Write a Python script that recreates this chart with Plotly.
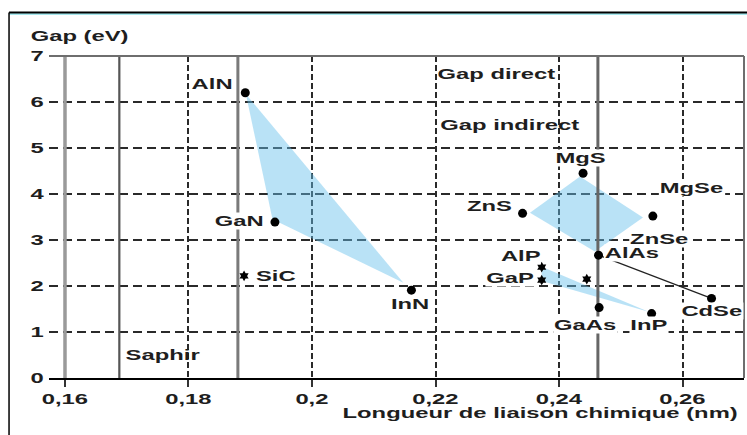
import plotly.graph_objects as go

# ---- data -------------------------------------------------------------
# direct-gap binaries (filled dots): bond length (nm), gap (eV)
direct_names = ["AlN", "GaN", "InN", "ZnS", "MgS", "MgSe", "AlAs", "CdSe", "GaAs", "InP"]
direct_bond = [0.1892, 0.1940, 0.2161, 0.2341, 0.2439, 0.2552, 0.2464, 0.2647, 0.2465, 0.2550]
direct_gap = [6.20, 3.39, 1.91, 3.58, 4.45, 3.52, 2.67, 1.73, 1.53, 1.40]

# indirect-gap binaries (stars)
indirect_names = ["SiC", "AlP", "GaP", ""]
indirect_bond = [0.1890, 0.2372, 0.2372, 0.2445]
indirect_gap = [2.22, 2.41, 2.13, 2.15]

# substrate reference lines (bond length, nm)
substrate_bond = [0.1600, 0.1688, 0.1880, 0.2463]

# alloy regions
nitride_bond = [0.1893, 0.1936, 0.2148]
nitride_gap = [6.17, 3.45, 2.07]
ii_vi_corners = ["ZnS", "MgS", "MgSe", "ZnSe"]
ii_vi_bond = [0.2353, 0.2434, 0.2536, 0.2458]
ii_vi_gap = [3.59, 4.38, 3.49, 2.75]
phosphide_bond = [0.2372, 0.2372, 0.2545]
phosphide_gap = [2.42, 2.11, 1.44]

# tie line between two binaries
tie_names = ["AlAs", "CdSe"]

x_ticks = [0.16, 0.18, 0.20, 0.22, 0.24, 0.26]
x_labels = ["0,16", "0,18", "0,2", "0,22", "0,24", "0,26"]
y_ticks = [0, 1, 2, 3, 4, 5, 6, 7]

# ---- styling ----------------------------------------------------------
INK = "#1e1e1e"
FILL = "rgba(100,190,235,0.45)"
FONT = dict(family="Liberation Sans", size=14, color=INK, weight="bold")
substrate_style = [("#9a9a9a", 3.5), ("#555555", 2.2), ("#7a7a7a", 3), ("#666666", 3)]

# label offsets in pixels (dx right, dy up) from each point
label_shift = {
    "AlN": (-33, 9), "GaN": (-35, 1), "InN": (-1, -14), "ZnS": (-34, 7),
    "MgS": (-2, 15), "MgSe": (39, 28), "AlAs": (33, 2), "CdSe": (0, -13),
    "GaAs": (-14, -17), "InP": (-3, -11), "SiC": (31, 0), "AlP": (-21, 11),
    "GaP": (-32, 2), "ZnSe": (64, 13),
}

fig = go.Figure()

for bx, gy in [(nitride_bond, nitride_gap), (ii_vi_bond, ii_vi_gap),
               (phosphide_bond, phosphide_gap)]:
    fig.add_trace(go.Scatter(x=bx, y=gy, fill="toself", fillcolor=FILL,
                             mode="lines", line=dict(width=0),
                             hoverinfo="skip", showlegend=False))

for b, (col, w) in zip(substrate_bond, substrate_style):
    fig.add_trace(go.Scatter(x=[b, b], y=[y_ticks[0], y_ticks[-1]], mode="lines",
                             line=dict(color=col, width=w),
                             hoverinfo="skip", showlegend=False))

tie_idx = [direct_names.index(n) for n in tie_names]
fig.add_trace(go.Scatter(x=[direct_bond[i] for i in tie_idx],
                         y=[direct_gap[i] for i in tie_idx], mode="lines",
                         line=dict(color="#222222", width=1.2),
                         hoverinfo="skip", showlegend=False))

fig.add_trace(go.Scatter(x=indirect_bond, y=indirect_gap, mode="markers",
                         marker=dict(symbol="hexagram", size=8, color="black"),
                         showlegend=False))
fig.add_trace(go.Scatter(x=direct_bond, y=direct_gap, mode="markers",
                         marker=dict(symbol="circle", size=9, color="black"),
                         showlegend=False))

annotations = []


def point_label(name, x, y):
    dx, dy = label_shift[name]
    annotations.append(dict(x=x, y=y, xref="x", yref="y", text=name,
                            showarrow=False, xanchor="center", yanchor="middle",
                            xshift=dx, yshift=dy, bgcolor="white", borderpad=0,
                            font=FONT))


for n, x, y in zip(direct_names, direct_bond, direct_gap):
    point_label(n, x, y)
for n, x, y in zip(indirect_names, indirect_bond, indirect_gap):
    if n:
        point_label(n, x, y)
zi = ii_vi_corners.index("ZnSe")
point_label("ZnSe", ii_vi_bond[zi], ii_vi_gap[zi])

for text, x, y in [("Gap direct", 0.2300, 6.61), ("Gap indirect", 0.2321, 5.51),
                   ("Saphir", 0.1759, 0.51)]:
    annotations.append(dict(x=x, y=y, xref="x", yref="y", text=text,
                            showarrow=False, xanchor="center", yanchor="middle",
                            font=FONT))

annotations.append(dict(x=0.0439, y=1.062, xref="paper", yref="paper",
                        text="Gap (eV)", showarrow=False, xanchor="center",
                        yanchor="middle", font=FONT))
annotations.append(dict(x=0.7072, y=-0.1087, xref="paper", yref="paper",
                        text="Longueur de liaison chimique (nm)", showarrow=False,
                        xanchor="center", yanchor="middle", font=FONT))

shapes = [
    # plot frame (top, right)
    dict(type="line", xref="paper", yref="paper", x0=0, x1=1, y0=1, y1=1,
         line=dict(color="#6e6e6e", width=2)),
    dict(type="line", xref="paper", yref="paper", x0=1, x1=1, y0=0, y1=1,
         line=dict(color="#6e6e6e", width=2)),
    # outer page frame
    dict(type="line", xref="paper", yref="paper", x0=-0.0575, x1=1.2,
         y0=1.1305, y1=1.1305, line=dict(color="#4fd3df", width=1.2)),
    dict(type="line", xref="paper", yref="paper", x0=-0.0575, x1=1.2,
         y0=1.1351, y1=1.1351, line=dict(color="black", width=2)),
    dict(type="line", xref="paper", yref="paper", x0=-0.0575, x1=-0.0575,
         y0=-0.3, y1=1.1351, line=dict(color="black", width=1.5)),
]

fig.update_layout(
    width=747, height=435, autosize=False,
    margin=dict(l=49, r=3, t=56, b=57),
    paper_bgcolor="white", plot_bgcolor="white",
    font=FONT, showlegend=False,
    annotations=annotations, shapes=shapes,
    xaxis=dict(range=[0.15741, 0.26996], tickvals=x_ticks, ticktext=x_labels,
               showgrid=True, gridcolor="#2a2a2a", gridwidth=1.6, griddash="6px,3px",
               showline=True, linecolor="black", linewidth=1.5,
               ticks="outside", ticklen=7, tickwidth=1.5, tickcolor="#333333",
               zeroline=False, tickfont=FONT),
    yaxis=dict(range=[0, 7], tickvals=y_ticks,
               showgrid=True, gridcolor="#2a2a2a", gridwidth=1.6, griddash="9px,5px",
               showline=False, zeroline=False, ticks="", ticklabelstandoff=4,
               tickfont=FONT),
)

# widen the lettering horizontally (wide-set typeface look)
stretch_js = """
var S = 1.7;
var gd = document.getElementById('{plot_id}');
function stretch(el, anchor) {
  var b = el.getBBox();
  var cx = anchor === 'start' ? b.x : (anchor === 'end' ? b.x + b.width : b.x + b.width / 2);
  var t = el.getAttribute('transform') || '';
  el.setAttribute('transform', t + ' translate(' + cx + ',0) scale(' + S + ',1) translate(' + (-cx) + ',0)');
}
gd.querySelectorAll('.xtick text, .ytick text').forEach(function (el) {
  stretch(el, el.getAttribute('text-anchor') || 'middle');
});
gd.querySelectorAll('.annotation-text-g > g').forEach(function (g) {
  stretch(g, 'middle');
});
"""

fig.write_html("out.html", post_script=stretch_js,
               config={"displayModeBar": False, "responsive": False})
